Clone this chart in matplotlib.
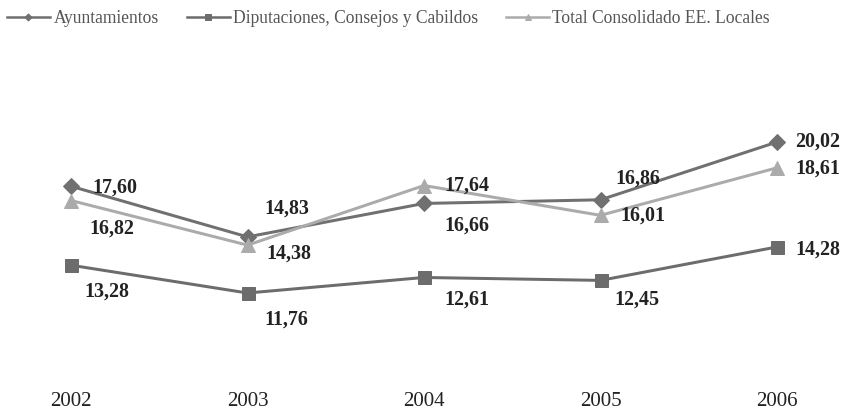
import matplotlib.pyplot as plt

# data
years = ["2002", "2003", "2004", "2005", "2006"]
ayuntamientos = [17.60, 14.83, 16.66, 16.86, 20.02]
diputaciones = [13.28, 11.76, 12.61, 12.45, 14.28]
total_consolidado = [16.82, 14.38, 17.64, 16.01, 18.61]

series_names = ["Ayuntamientos", "Diputaciones, Consejos y Cabildos",
                "Total Consolidado EE. Locales"]

# label offsets (px) relative to each point
off_ayu = [(21, -1), (17, 28), (20, -22), (15, 21), (18, 0)]
off_dip = [(13, -26), (17, -27), (20, -22), (14, -19), (18, -3)]
off_tot = [(18, -28), (19, -8), (20, 0), (20, 0), (18, -1)]

plt.rcParams['font.family'] = ['Liberation Serif', 'DejaVu Serif']

DPI = 72
fig = plt.figure(figsize=(848 / DPI, 411 / DPI), dpi=DPI)
ax = fig.add_axes([71 / 848, 31 / 411, 706 / 848, 280 / 411])

x = list(range(len(years)))

estilos = [
    (ayuntamientos, "#707070", "D", 11, off_ayu),
    (diputaciones, "#6c6c6c", "s", 13, off_dip),
    (total_consolidado, "#ababab", "^", 14, off_tot),
]

handles = []
for (vals, col, mk, ms, offs), name in zip(estilos, series_names):
    h, = ax.plot(x, vals, color=col, lw=3, marker=mk, markersize=ms,
                 clip_on=False, label=name)
    handles.append(h)
    for i, v in enumerate(vals):
        ax.annotate(f"{v:.2f}".replace(".", ","), xy=(i, v),
                    xytext=offs[i], textcoords="offset points",
                    ha="left", va="center", fontsize=20, fontweight="bold",
                    color="#222222")

ax.set_xlim(0, 4)
ax.set_ylim(7.0, 22.32)
ax.set_xticks(x)
ax.set_xticklabels(years, fontsize=21, color="#222222")
ax.set_yticks([])
ax.tick_params(axis="x", length=0, pad=12)
for s in ax.spines.values():
    s.set_visible(False)

leg = fig.legend(handles=handles, loc="upper left",
                 bbox_to_anchor=(7 / 848, 1 - 10 / 411), ncol=3,
                 frameon=False, fontsize=17.5, handlelength=2.45,
                 handletextpad=0.2, columnspacing=1.6, borderpad=0,
                 borderaxespad=0, markerscale=0.45)
for t in leg.get_texts():
    t.set_color("#555555")
for lh in leg.get_lines():
    lh.set_linewidth(2.5)

fig.savefig("out.png", dpi=DPI)
